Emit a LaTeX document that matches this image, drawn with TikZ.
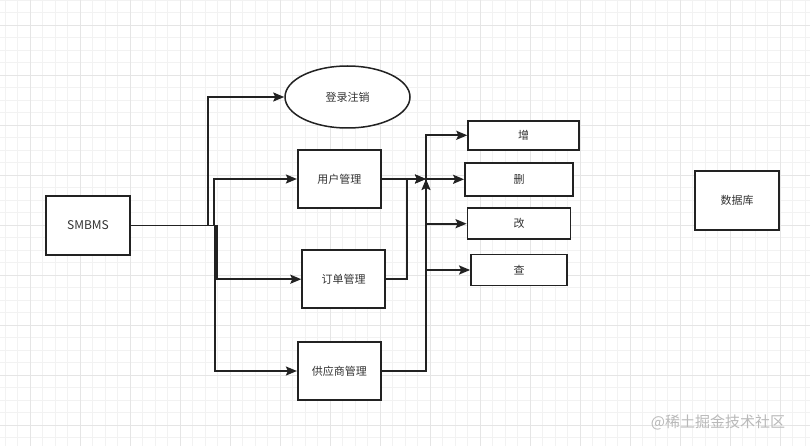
\documentclass[tikz,border=0pt]{standalone}
\usepackage{fontspec}
\setmainfont{Noto Sans CJK SC}
\usetikzlibrary{arrows.meta,shapes.geometric}
\definecolor{ink}{HTML}{222222}
\definecolor{txt}{HTML}{333333}
\definecolor{gridminor}{HTML}{F2F2F2}
\definecolor{gridmajor}{HTML}{E5E5E5}
\tikzset{
  box/.style={draw=ink, line width=1.8pt, fill=white, rectangle, inner sep=0pt,
    font=\fontsize{11}{13}\selectfont, text=txt},
  oval/.style={box, ellipse, line width=1.5pt},
  conn/.style={draw=ink, line width=1.8pt,
    -{Stealth[length=11pt,width=9pt,inset=2pt]}},
}
\begin{document}
\begin{tikzpicture}[x=1pt,y=-1pt]
\useasboundingbox (0,0) rectangle (810,446);
\fill[white] (0,0) rectangle (810,446);
% grid
\foreach \i in {0,...,65} {
  \draw[gridminor, line width=0.7pt] ({5+12.5*\i},0) -- ({5+12.5*\i},446);
}
\foreach \j in {0,...,36} {
  \draw[gridminor, line width=0.7pt] (0,{12.5*\j}) -- (810,{12.5*\j});
}
\foreach \i in {0,...,16} {
  \draw[gridmajor, line width=0.9pt] ({30+50*\i},0) -- ({30+50*\i},446);
}
\foreach \j in {0,...,9} {
  \draw[gridmajor, line width=0.9pt] (0,{25+50*\j}) -- (810,{25+50*\j});
}

% nodes
\node[box, minimum width=84pt, minimum height=59pt, font=\fontsize{12}{14}\selectfont] (smbms) at (88,225.5) {SMBMS};
\node[oval, minimum width=125pt, minimum height=62pt] (login) at (347.5,97) {登录注销};
\node[box, minimum width=83pt, minimum height=58pt] (user) at (339.3,179) {用户管理};
\node[box, minimum width=83pt, minimum height=58pt] (order) at (343.7,279.2) {订单管理};
\node[box, minimum width=83pt, minimum height=58pt] (supp) at (339.3,371) {供应商管理};
\node[box, minimum width=111pt, minimum height=29pt] (zeng) at (523.7,135.3) {增};
\node[box, minimum width=108pt, minimum height=33pt] (shan) at (519,179.3) {删};
\node[box, minimum width=103pt, minimum height=31pt] (gai) at (519,223.7) {改};
\node[box, minimum width=96pt, minimum height=31pt] (cha) at (519,270) {查};
\node[box, minimum width=84pt, minimum height=59pt] (db) at (737,200.7) {数据库};

\coordinate (J) at (426,179);

% connectors from SMBMS
\draw[conn] (smbms.east) -- ++(77,0) |- (login.west);
\draw[conn] (smbms.east) -- ++(83,0) |- (user.west);
\draw[conn] (smbms.east) -- ++(86,0) |- (order.west);
\draw[conn] (smbms.east) -- ++(84,0) |- (supp.west);

% into junction
\draw[conn] (user.east) -- (J);
\draw[conn] (order.east) -- ++(20.5,0) |- (J);
\draw[conn] (supp.east) -| (J);

% out of junction
\draw[conn] (J) |- (zeng.west);
\draw[conn] (J) |- (shan.west);
\draw[conn] (J) |- (gai.west);
\draw[conn] (J) |- (cha.west);

% watermark
\node[text=gray!55, font=\fontsize{15}{17}\selectfont, inner sep=0pt] (wm) at (718,422) {@稀土掘金技术社区};
\end{tikzpicture}
\end{document}
